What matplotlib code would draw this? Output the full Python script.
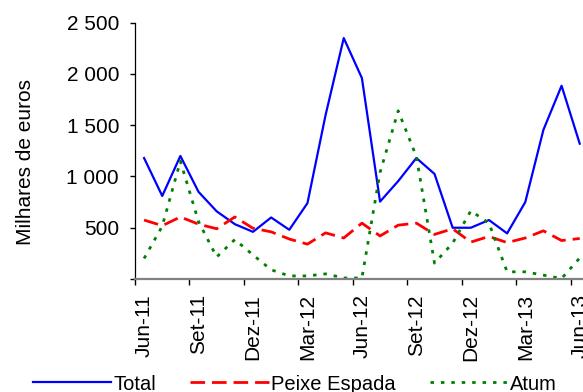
import matplotlib
matplotlib.use("Agg")
import matplotlib.pyplot as plt

plt.rcParams['font.family'] = ['Liberation Sans', 'DejaVu Sans']
plt.rcParams['lines.scale_dashes'] = False

months = ["Jun-11", "Jul-11", "Ago-11", "Set-11", "Out-11", "Nov-11", "Dez-11", "Jan-12",
          "Fev-12", "Mar-12", "Abr-12", "Mai-12", "Jun-12", "Jul-12", "Ago-12", "Set-12",
          "Out-12", "Nov-12", "Dez-12", "Jan-13", "Fev-13", "Mar-13", "Abr-13", "Mai-13", "Jun-13"]
total = [1180, 810, 1200, 850, 660, 535, 460, 600, 480, 740, 1600, 2350, 1960,
         755, 955, 1180, 1025, 500, 500, 575, 445, 750, 1455, 1885, 1320]
peixe_espada = [575, 520, 605, 535, 490, 605, 495, 460, 390, 340, 450, 400, 545,
                420, 525, 545, 435, 490, 360, 415, 355, 400, 470, 375, 395]
atum = [200, 515, 1150, 560, 215, 385, 235, 90, 30, 30, 50, 10, 10,
        1040, 1640, 1195, 155, 350, 665, 545, 70, 70, 38, 5, 205]
yticks = [0, 500, 1000, 1500, 2000, 2500]
ytick_labels = ["", "500", "1 000", "1 500", "2 000", "2 500"]

fig = plt.figure(figsize=(5.83, 3.92), dpi=100)
ax = fig.add_axes([135 / 583, 1 - 279 / 392, 453.8 / 583, (279 - 22.7) / 392])

x = list(range(len(months)))
ax.plot(x, total, color="#0000FF", lw=1.6, label="Total")
ax.plot(x, peixe_espada, color="#FF0000", lw=2.0, ls=(0, (10.5, 5.0)), label="Peixe Espada")
ax.plot(x, atum, color="#008000", lw=2.0, ls=(0, (2.5, 5.0)), label="Atum")

ax.set_xlim(-0.5, len(months) - 0.5)
ax.set_ylim(0, 2500)

ax.set_yticks(yticks)
ax.set_yticklabels(ytick_labels, fontsize=15)
bounds = [i - 0.5 for i in range(0, len(months) + 1, 3)]
ax.set_xticks(bounds)
ax.set_xticklabels([""] * len(bounds))
centers = list(range(0, len(months), 3))
ax.set_xticks(centers, minor=True)
ax.set_xticklabels([months[i] for i in centers], minor=True, rotation=90, fontsize=15)
ax.tick_params(axis='x', which='minor', length=0, pad=11)
ax.tick_params(axis='x', which='major', length=4.5, width=1, color='black', direction='out')
ax.tick_params(axis='y', length=3.5, width=1, color='black', pad=8)

for s in ['top', 'right']:
    ax.spines[s].set_visible(False)
ax.spines['left'].set_color('black')
ax.spines['left'].set_linewidth(0.9)
ax.spines['bottom'].set_color('#808080')
ax.spines['bottom'].set_linewidth(1.6)

fig.text(26 / 583, 1 - 162 / 392, "Milhares de euros", rotation=90, fontsize=15,
         ha='center', va='center')

fig.legend(loc='center', bbox_to_anchor=(295 / 583, 1 - 384 / 392), ncol=3, frameon=False,
           fontsize=14.5, handlelength=3.9, handletextpad=0.1, columnspacing=1.7,
           borderpad=0, borderaxespad=0)

fig.savefig("out.png", dpi=100)
